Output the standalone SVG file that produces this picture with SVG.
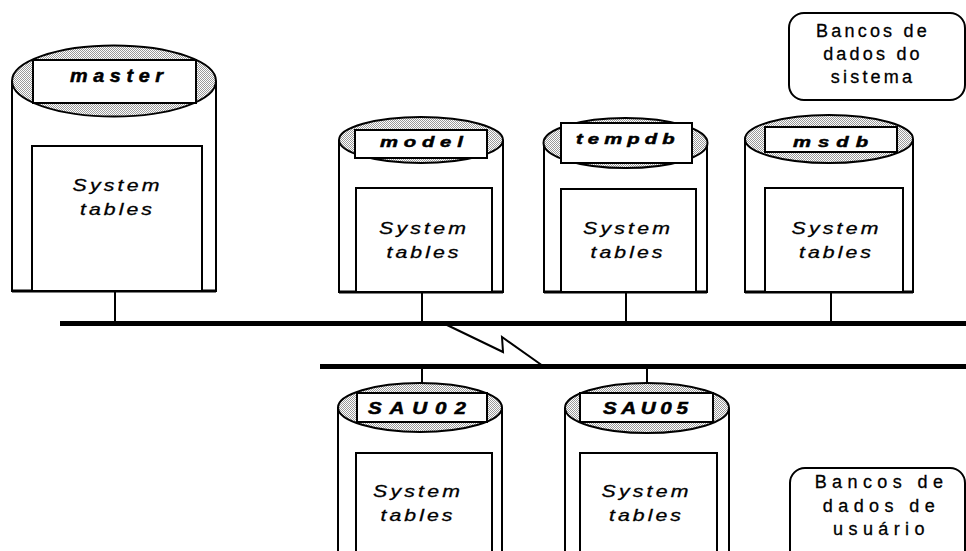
<svg xmlns="http://www.w3.org/2000/svg" width="966" height="551" viewBox="0 0 966 551">
  <defs>
    <!-- halftone stipple used on the cylinder tops -->
    <pattern id="stip" width="2" height="2" patternUnits="userSpaceOnUse">
      <rect width="2" height="2" fill="#fff"/>
      <rect x="0" y="0" width="1" height="1" fill="#999"/>
      <rect x="1" y="1" width="1" height="1" fill="#999"/>
    </pattern>
  </defs>
  <style>
    .body { fill: #fff; stroke: #000; stroke-width: 2; }
    .base { stroke: #000; stroke-width: 3; }
    .top { fill: url(#stip); stroke: #000; stroke-width: 2; }
    .label { fill: #fff; stroke: #000; stroke-width: 2; }
    .inner { fill: #fff; stroke: #000; stroke-width: 2; }
    .name { font-family: "Liberation Sans", Arial, sans-serif; font-weight: bold; font-style: italic; fill: #000; stroke: #000; stroke-width: 0.5; }
    .tbl { font-family: "Liberation Sans", Arial, sans-serif; font-style: italic; font-size: 17px; fill: #000; stroke: #000; stroke-width: 0.3; text-anchor: middle; }
    .legend { fill: #fff; stroke: #000; stroke-width: 2; }
    .ltxt { font-family: "Liberation Sans", Arial, sans-serif; font-size: 18px; fill: #000; stroke: #000; stroke-width: 0.3; text-anchor: middle; }
    .bus { stroke: #000; stroke-width: 5; }
    .link { stroke: #000; stroke-width: 2; fill: none; }
  </style>

  <!-- network buses and drops -->
  <g id="connectors">
    <line class="bus" x1="60" y1="323.5" x2="966" y2="323.5"/>
    <line class="bus" x1="320" y1="366.5" x2="966" y2="366.5"/>
    <polyline class="link" points="447,325 503,352 502,337 543,366"/>
    <line class="link" x1="115" y1="291" x2="115" y2="322"/>
    <line class="link" x1="422" y1="292" x2="422" y2="322"/>
    <line class="link" x1="626" y1="292" x2="626" y2="322"/>
    <line class="link" x1="831" y1="292" x2="831" y2="322"/>
    <line class="link" x1="422" y1="368" x2="422" y2="383"/>
    <line class="link" x1="647" y1="368" x2="647" y2="384"/>
  </g>

  <g id="master">
    <path class="body" d="M12,81 V291 H216 V81"/>
    <line class="base" x1="12" y1="291" x2="216" y2="291"/>
    <ellipse class="top" cx="114" cy="81" rx="102" ry="35.5"/>
    <rect class="label" x="33" y="60" width="163" height="43"/>
    <text class="name" transform="translate(70,82) scale(1.1,1)" font-size="18" letter-spacing="5.1">master</text>
    <rect class="inner" x="32" y="146" width="170" height="145"/>
    <text class="tbl" transform="translate(116,191) scale(1.25,1)" x="1.3" letter-spacing="2.6">System</text>
    <text class="tbl" transform="translate(116,215) scale(1.25,1)" x="1.2" letter-spacing="2.45">tables</text>
  </g>

  <g id="model">
    <path class="body" d="M339,140 V292 H503 V140"/>
    <line class="base" x1="339" y1="292" x2="503" y2="292"/>
    <ellipse class="top" cx="421" cy="140" rx="82" ry="23"/>
    <rect class="label" x="355" y="130" width="132" height="28"/>
    <text class="name" transform="translate(380,146.5) scale(1.35,1)" font-size="15" letter-spacing="4.3">model</text>
    <rect class="inner" x="356" y="188" width="136" height="104"/>
    <text class="tbl" transform="translate(422.5,234) scale(1.25,1)" x="1.3" letter-spacing="2.6">System</text>
    <text class="tbl" transform="translate(422.5,258) scale(1.25,1)" x="1.2" letter-spacing="2.45">tables</text>
  </g>

  <g id="tempdb">
    <path class="body" d="M544,143 V292 H707 V143"/>
    <line class="base" x1="544" y1="292" x2="707" y2="292"/>
    <ellipse class="top" cx="625.5" cy="143" rx="82" ry="25"/>
    <rect class="label" x="561" y="123" width="131" height="40"/>
    <text class="name" transform="translate(576,143.5) scale(1.35,1)" font-size="15" letter-spacing="3.8">tempdb</text>
    <rect class="inner" x="561" y="189" width="135" height="103"/>
    <text class="tbl" transform="translate(626.5,234) scale(1.25,1)" x="1.3" letter-spacing="2.6">System</text>
    <text class="tbl" transform="translate(626.5,258) scale(1.25,1)" x="1.2" letter-spacing="2.45">tables</text>
  </g>

  <g id="msdb">
    <path class="body" d="M745,139 V292 H913 V139"/>
    <line class="base" x1="745" y1="292" x2="913" y2="292"/>
    <ellipse class="top" cx="829" cy="139" rx="84" ry="24"/>
    <rect class="label" x="765" y="127" width="132" height="25"/>
    <text class="name" transform="translate(793,147) scale(1.35,1)" font-size="15" letter-spacing="5.2">msdb</text>
    <rect class="inner" x="765" y="188" width="138" height="104"/>
    <text class="tbl" transform="translate(835,234) scale(1.25,1)" x="1.3" letter-spacing="2.6">System</text>
    <text class="tbl" transform="translate(835,258) scale(1.25,1)" x="1.2" letter-spacing="2.45">tables</text>
  </g>

  <g id="SAU02">
    <path class="body" d="M338,407.5 V560 H502 V407.5"/>
    <ellipse class="top" cx="420" cy="407.5" rx="82" ry="24.5"/>
    <rect class="label" x="357" y="393" width="130" height="29"/>
    <text class="name" transform="translate(368,413.5) scale(1.25,1)" font-size="16.5" letter-spacing="6.3">SAU02</text>
    <rect class="inner" x="356" y="453" width="136" height="110"/>
    <text class="tbl" transform="translate(416.5,497) scale(1.25,1)" x="1.3" letter-spacing="2.6">System</text>
    <text class="tbl" transform="translate(416.5,521) scale(1.25,1)" x="1.2" letter-spacing="2.45">tables</text>
  </g>

  <g id="SAU05">
    <path class="body" d="M565,408 V560 H729 V408"/>
    <ellipse class="top" cx="647" cy="408" rx="82" ry="25"/>
    <rect class="label" x="580" y="393" width="133" height="29"/>
    <text class="name" transform="translate(603,413.5) scale(1.25,1)" font-size="16.5" letter-spacing="3.7">SAU05</text>
    <rect class="inner" x="580" y="453" width="137" height="110"/>
    <text class="tbl" transform="translate(645,497) scale(1.25,1)" x="1.3" letter-spacing="2.6">System</text>
    <text class="tbl" transform="translate(645,521) scale(1.25,1)" x="1.2" letter-spacing="2.45">tables</text>
  </g>

  <g id="legend-sistema">
    <rect class="legend" x="789" y="13" width="176" height="87" rx="15"/>
    <text class="ltxt" x="873" y="37" letter-spacing="3.2">Bancos de</text>
    <text class="ltxt" x="873" y="60" letter-spacing="3.2">dados do</text>
    <text class="ltxt" x="873" y="83" letter-spacing="3.2">sistema</text>
  </g>

  <g id="legend-usuario">
    <rect class="legend" x="790" y="468" width="175" height="100" rx="15"/>
    <text class="ltxt" x="881.5" y="488" letter-spacing="5.4">Bancos de</text>
    <text class="ltxt" x="881.5" y="512" letter-spacing="5.4">dados de</text>
    <text class="ltxt" x="881.5" y="535" letter-spacing="5.4">usuário</text>
  </g>
</svg>
